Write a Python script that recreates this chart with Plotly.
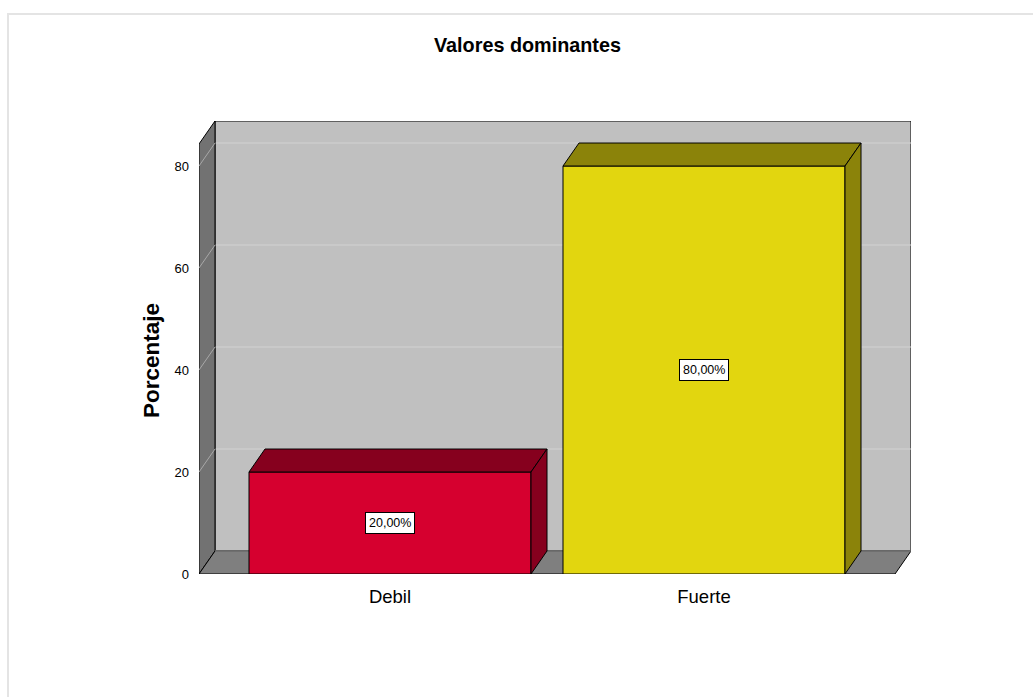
import plotly.graph_objects as go

# ---- data ----
categories = ["Debil", "Fuerte"]
percentages = [20.0, 80.0]
front_colors = ["#d6002f", "#e2d60f"]
shade_colors = ["#86001e", "#8b830a"]
y_ticks = [0, 20, 40, 60, 80]

# ---- layout geometry (pixels) ----
W, H = 1033, 697
L, R, T, B = 199, 122, 121, 123
PX_PER_X = 314.0
PX_PER_Y = 5.1
DEPTH_X_PX, DEPTH_Y_PX = 16, 23

dx = DEPTH_X_PX / PX_PER_X
dy = DEPTH_Y_PX / PX_PER_Y
x_lo = -191 / PX_PER_X
x_hi = x_lo + (W - L - R) / PX_PER_X
x_front_hi = x_hi - dx
y_hi = (H - T - B) / PX_PER_Y
y_front_hi = y_hi - dy
bar_w = 282 / PX_PER_X

xs = list(range(len(categories)))

fig = go.Figure()

# ---- 3D frame: back wall, left wall, floor ----
shapes = []
shapes.append(dict(type="path", layer="below",
                   path=f"M{x_lo+dx},{dy} L{x_lo+dx},{y_hi} L{x_hi},{y_hi} L{x_hi},{dy} Z",
                   fillcolor="#c0c0c0", line=dict(color="black", width=1)))
for v in y_ticks[1:]:
    shapes.append(dict(type="line", layer="below", x0=x_lo + dx, x1=x_hi, y0=v + dy, y1=v + dy,
                       line=dict(color="#d2d2d2", width=1)))
shapes.append(dict(type="path", layer="below",
                   path=f"M{x_lo},0 L{x_lo},{y_front_hi} L{x_lo+dx},{y_hi} L{x_lo+dx},{dy} Z",
                   fillcolor="#727272", line=dict(color="black", width=1)))
for v in y_ticks[1:]:
    shapes.append(dict(type="line", layer="below", x0=x_lo, x1=x_lo + dx, y0=v, y1=v + dy,
                       line=dict(color="#a8a8a8", width=1)))
shapes.append(dict(type="path", layer="below",
                   path=f"M{x_lo},0 L{x_front_hi},0 L{x_hi},{dy} L{x_lo+dx},{dy} Z",
                   fillcolor="#7f7f7f", line=dict(color="black", width=1)))
shapes.append(dict(type="line", layer="below", x0=x_lo + dx, x1=x_hi, y0=dy, y1=dy,
                   line=dict(color="#a0a0a0", width=1)))

# outer light frame
shapes.append(dict(type="rect", xref="paper", yref="paper", layer="below",
                   x0=(8 - L) / (W - L - R), x1=(W + 10 - L) / (W - L - R),
                   y0=(H - B - (H + 10)) / (H - T - B), y1=(H - B - 14) / (H - T - B),
                   line=dict(color="#e4e4e4", width=2)))

# ---- bars ----
fig.add_trace(go.Bar(x=xs, y=percentages, width=bar_w,
                     marker=dict(color=front_colors, line=dict(color="black", width=1)),
                     hoverinfo="skip", showlegend=False))

for x, v, sc in zip(xs, percentages, shade_colors):
    l, r = x - bar_w / 2, x + bar_w / 2
    fig.add_trace(go.Scatter(x=[l, l + dx, r + dx, r, l], y=[v, v + dy, v + dy, v, v],
                             fill="toself", fillcolor=sc, mode="lines",
                             line=dict(color="black", width=1), hoverinfo="skip", showlegend=False))
    fig.add_trace(go.Scatter(x=[r, r + dx, r + dx, r, r], y=[0, dy, v + dy, v, 0],
                             fill="toself", fillcolor=sc, mode="lines",
                             line=dict(color="black", width=1), hoverinfo="skip", showlegend=False))

FONT = "Liberation Sans, Arial"
annotations = []
for x, v in zip(xs, percentages):
    annotations.append(dict(x=x, y=v / 2, text=f"{v:.2f}".replace(".", ",") + "%",
                            showarrow=False, bgcolor="white", bordercolor="black",
                            borderwidth=1, borderpad=3,
                            font=dict(family=FONT, size=12.5, color="black")))

annotations.append(dict(xref="paper", yref="paper", x=(527 - L) / (W - L - R),
                        y=(H - B - 45) / (H - T - B), text="<b>Valores dominantes</b>",
                        showarrow=False, yanchor="middle",
                        font=dict(family=FONT, size=19.8, color="black")))
annotations.append(dict(xref="paper", yref="paper", x=(151 - L) / (W - L - R),
                        y=(H - B - 361) / (H - T - B), text="<b>Porcentaje</b>",
                        showarrow=False, textangle=-90, xanchor="center", yanchor="middle",
                        font=dict(family=FONT, size=22.5, color="black")))

fig.update_layout(
    width=W, height=H,
    margin=dict(l=L, r=R, t=T, b=B),
    paper_bgcolor="white", plot_bgcolor="white",
    shapes=shapes, annotations=annotations,
    showlegend=False,
    xaxis=dict(range=[x_lo, x_hi], tickvals=xs, ticktext=categories, showgrid=False,
               zeroline=False, showline=False, ticks="", ticklabelstandoff=9,
               tickfont=dict(family=FONT, size=18.5, color="black")),
    yaxis=dict(range=[0, y_hi], tickvals=y_ticks, showgrid=False, zeroline=False,
               showline=False, ticks="", ticklabelstandoff=9,
               tickfont=dict(family=FONT, size=13, color="black")),
)

fig.write_html("out.html")
